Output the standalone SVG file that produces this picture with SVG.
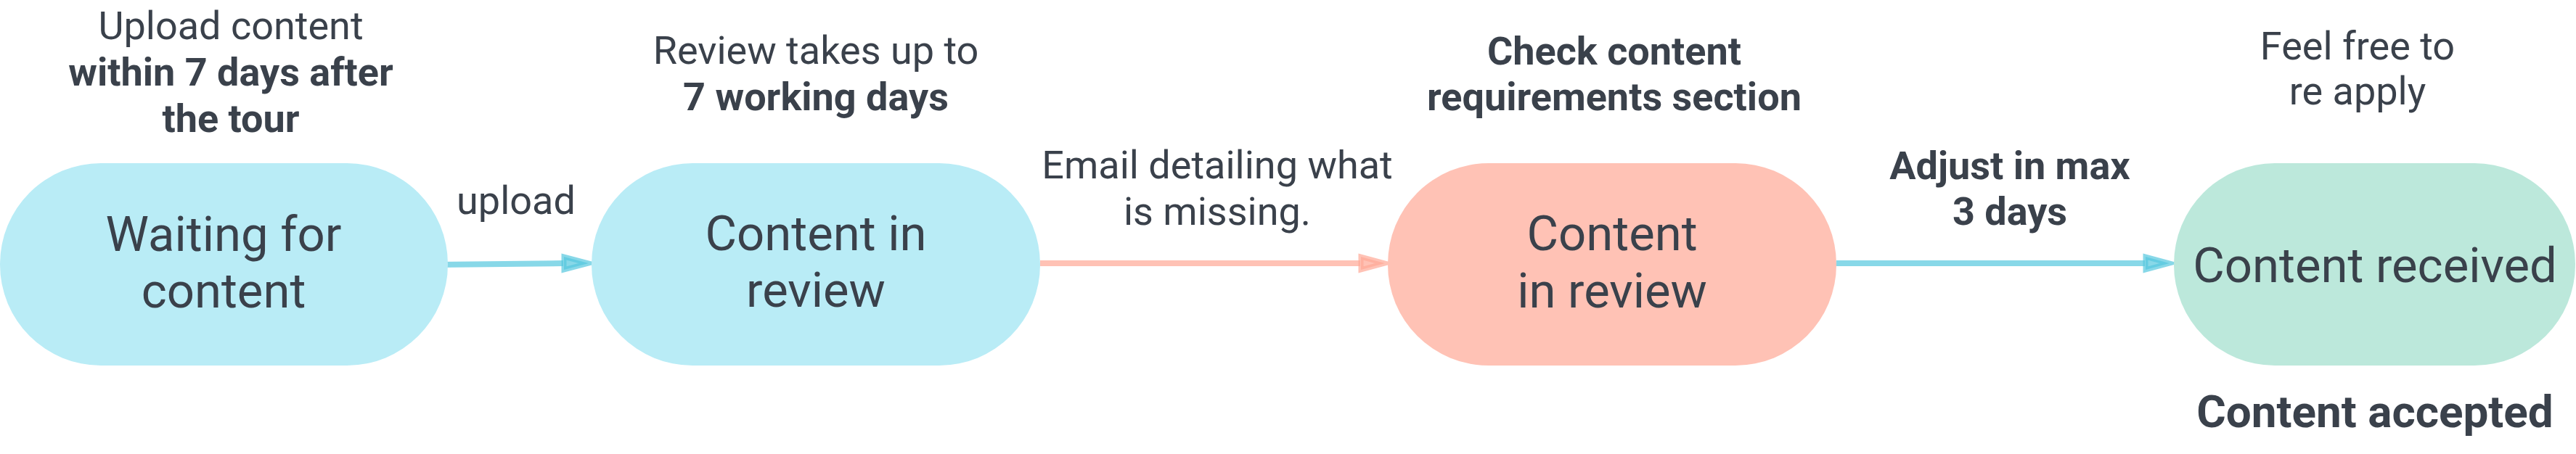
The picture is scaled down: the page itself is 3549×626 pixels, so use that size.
<svg xmlns="http://www.w3.org/2000/svg" width="3549" height="626" viewBox="0 0 3549 626">
<style>
text { font-family: Roboto, "Liberation Sans", sans-serif; fill: #3A414B; text-anchor: middle; }
.node { font-size: 67px; }
.lbl { font-size: 54px; }
.b { font-weight: bold; }
.big { font-size: 62px; }
.blue { fill: #B9ECF6; }
.red { fill: #FFC2B5; }
.green { fill: #BCE8DB; }
.eb { stroke: #55C7DE; stroke-opacity: 0.7; stroke-width: 8; fill: none; }
.er { stroke: #FFA895; stroke-opacity: 0.7; stroke-width: 8; fill: none; }
.ab { fill: #55C7DE; fill-opacity: 0.7; stroke: #55C7DE; stroke-opacity: 0.7; stroke-width: 7; stroke-linejoin: miter; }
.ar { fill: #FFA895; fill-opacity: 0.7; stroke: #FFA895; stroke-opacity: 0.7; stroke-width: 7; stroke-linejoin: miter; }
</style>
<rect width="3549" height="626" fill="#FFFFFF"/>

<g id="connectors">
  <g id="edge-upload">
    <path class="eb" d="M602 365 L776 363"/>
    <polygon class="ab" points="777,354 777,372 811,363"/>
    <text class="lbl" x="711" y="295">upload</text>
  </g>
  <g id="edge-email">
    <path class="er" d="M1433 363 L1874 363"/>
    <polygon class="ar" points="1875,354 1875,372 1908,363"/>
    <text class="lbl" x="1677" y="246">Email detailing what</text>
    <text class="lbl" x="1677" y="310">is missing.</text>
  </g>
  <g id="edge-adjust">
    <path class="eb" d="M2530 363 L2955 363"/>
    <polygon class="ab" points="2956,354 2956,372 2989,363"/>
    <text class="lbl b" x="2769" y="247">Adjust in max</text>
    <text class="lbl b" x="2769" y="310">3 days</text>
  </g>
</g>

<g id="node-waiting">
  <rect class="blue" x="0" y="225" width="617" height="279" rx="139" ry="139"/>
  <text class="node" x="308" y="346">Waiting for</text>
  <text class="node" x="308" y="424">content</text>
  <text class="lbl" x="318" y="54">Upload content</text>
  <text class="lbl b" x="318" y="118">within 7 days after</text>
  <text class="lbl b" x="318" y="182">the tour</text>
</g>

<g id="node-review">
  <rect class="blue" x="815" y="225" width="618" height="279" rx="139" ry="139"/>
  <text class="node" x="1124" y="345">Content in</text>
  <text class="node" x="1124" y="423">review</text>
  <text class="lbl" x="1124" y="88">Review takes up to</text>
  <text class="lbl b" x="1124" y="152">7 working days</text>
</g>

<g id="node-review-2">
  <rect class="red" x="1912" y="225" width="618" height="279" rx="139" ry="139"/>
  <text class="node" x="2221" y="345">Content</text>
  <text class="node" x="2221" y="424">in review</text>
  <text class="lbl b" x="2224" y="89">Check content</text>
  <text class="lbl b" x="2224" y="152">requirements section</text>
</g>

<g id="node-received">
  <rect class="green" x="2995" y="225" width="553" height="279" rx="139" ry="139"/>
  <text class="node" x="3272" y="389">Content received</text>
  <text class="lbl" x="3248" y="82">Feel free to</text>
  <text class="lbl" x="3248" y="144">re apply</text>
  <text class="lbl b big" x="3272" y="589">Content accepted</text>
</g>
</svg>
